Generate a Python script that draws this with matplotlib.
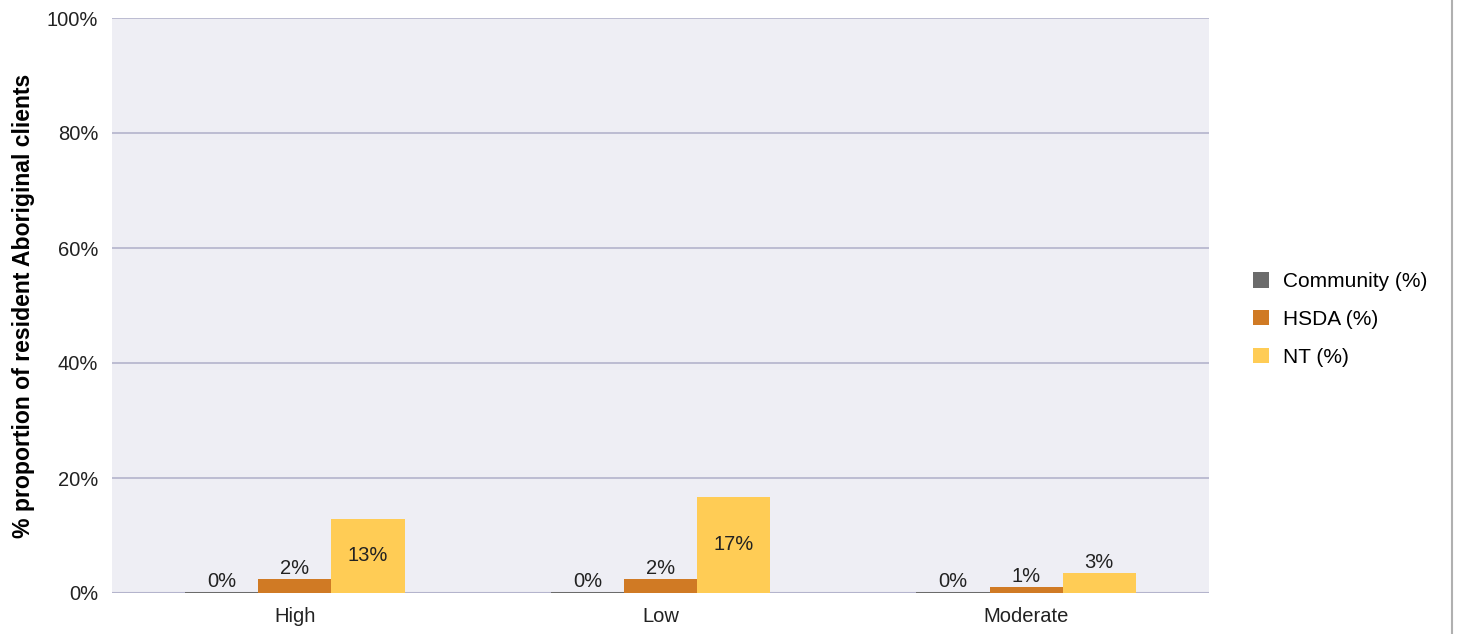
import matplotlib.pyplot as plt
from matplotlib.lines import Line2D
import numpy as np

plt.rcParams['font.family'] = ['Liberation Sans', 'DejaVu Sans']

categories = ["High", "Low", "Moderate"]
series = ["Community (%)", "HSDA (%)", "NT (%)"]
community = [0.2, 0.2, 0.2]
hsda = [2.4, 2.4, 1.0]
nt = [12.9, 16.7, 3.5]
bar_labels = [["0%", "0%", "0%"], ["2%", "2%", "1%"], ["13%", "17%", "3%"]]
colors = ["#6b6b6b", "#d07a24", "#ffcc55"]

fs = 14.5

fig = plt.figure(figsize=(14.6, 6.34), dpi=100)
ax = fig.add_axes([112 / 1460, 1 - 593 / 634, 1097 / 1460, 575 / 634])
ax.set_facecolor("#eeeef4")

x = np.arange(len(categories))
width = 0.2
for i, (vals, col) in enumerate(zip([community, hsda, nt], colors)):
    pos = x + (i - 1) * width
    ax.bar(pos, vals, width=width, color=col, label=series[i], zorder=3)
    for p, v, lab in zip(pos, vals, bar_labels[i]):
        if v > 8:
            ax.text(p, v / 2, lab, ha="center", va="center", fontsize=fs, color="#222222", zorder=4)
        else:
            ax.text(p, v + 0.2, lab, ha="center", va="bottom", fontsize=fs, color="#222222", zorder=4)

ax.set_xlim(-0.5, 2.5)
ax.set_ylim(0, 100)
ax.set_yticks(np.arange(0, 101, 20))
ax.set_yticklabels([f"{t}%" for t in range(0, 101, 20)])
ax.set_xticks(x)
ax.set_xticklabels(categories)
ax.tick_params(axis="both", length=0, labelsize=fs, colors="#222222")
ax.tick_params(axis="y", pad=10)
ax.tick_params(axis="x", pad=10)
ax.grid(axis="y", color="#b4b4cc", linewidth=1.2, zorder=1)
for s in ax.spines.values():
    s.set_visible(False)
ax.axhline(0, color="#b4b4cc", linewidth=1.5, zorder=2)
ax.set_ylabel("% proportion of resident Aboriginal clients", fontsize=16.6, fontweight="bold")
ax.yaxis.set_label_coords(-77 / 1097, 0.5)

ax.legend(loc="center left", bbox_to_anchor=(1.023, 0.5 - 14 / 575), frameon=False, fontsize=15,
          handlelength=0.75, handleheight=0.75, labelspacing=0.9, handletextpad=0.7)

fig.add_artist(Line2D([1452 / 1460, 1452 / 1460], [0, 1], color="#b0b0b0", linewidth=1.5))

fig.savefig("out.png", dpi=100)
